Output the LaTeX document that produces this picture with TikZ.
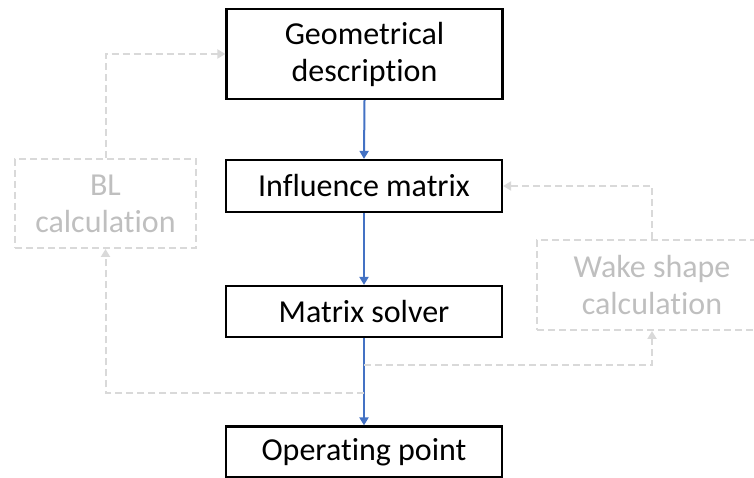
\documentclass[tikz,border=0pt]{standalone}
\usepackage{fontspec}
\setmainfont[Ligatures=NoCommon]{Carlito}
\usetikzlibrary{positioning, calc, arrows.meta}

\definecolor{flowblue}{HTML}{4472C4}
\definecolor{loopgray}{HTML}{D9D9D9}
\definecolor{looptext}{HTML}{BFBFBF}

\tikzset{
  mainbox/.style={draw=black, line width=2.2pt, align=center, inner sep=0pt,
                  font=\fontsize{32}{37}\selectfont},
  loopbox/.style={draw=loopgray, line width=2pt, dash pattern=on 7pt off 4pt,
                  text=looptext, align=center, inner sep=0pt,
                  font=\fontsize{32}{37}\selectfont},
  flow/.style={draw=flowblue, line width=2pt, -{Triangle[length=8pt,width=9pt]}},
  loop/.style={draw=loopgray, line width=2pt, dash pattern=on 7pt off 4pt,
               -{Triangle[length=8pt,width=9pt]}}
}

\begin{document}
\begin{tikzpicture}[x=1pt, y=1pt]
        \useasboundingbox (0,0) rectangle (754,478);

        \node[mainbox, minimum width=276, minimum height=90] (geo)    at (364.5,424)  {Geometrical\\description};
        \node[mainbox, minimum width=276, minimum height=52] (infl)   at (364,292)    {Influence matrix};
        \node[mainbox, minimum width=276, minimum height=51] (solver) at (364,166.5)  {Matrix solver};
        \node[mainbox, minimum width=276, minimum height=51] (op)     at (364,26)     {Operating point};

        \node[loopbox, minimum width=181, minimum height=89] (bl)   at (105.5,274.5) {BL\\calculation};
        \node[loopbox, minimum width=230, minimum height=90] (wake) at (652,193)     {Wake shape\\calculation};

        \coordinate (wtap) at (364,113);   %to wake
        \coordinate (btap) at (364,85);    %to BL

        % main flow
        \draw[flow] (geo.south)    to (infl.north);
        \draw[flow] (infl.south)   to (solver.north);
        \draw[flow] (solver.south) to (op.north);

        % feedback loops
        \draw[loop] (wtap) -| (wake.south);
        \draw[loop] (wake.north) |- (infl.east);
        \draw[loop] (btap) -| (bl.south);
        \draw[loop] (bl.north) |- (geo.west);
      \end{tikzpicture}
\end{document}
